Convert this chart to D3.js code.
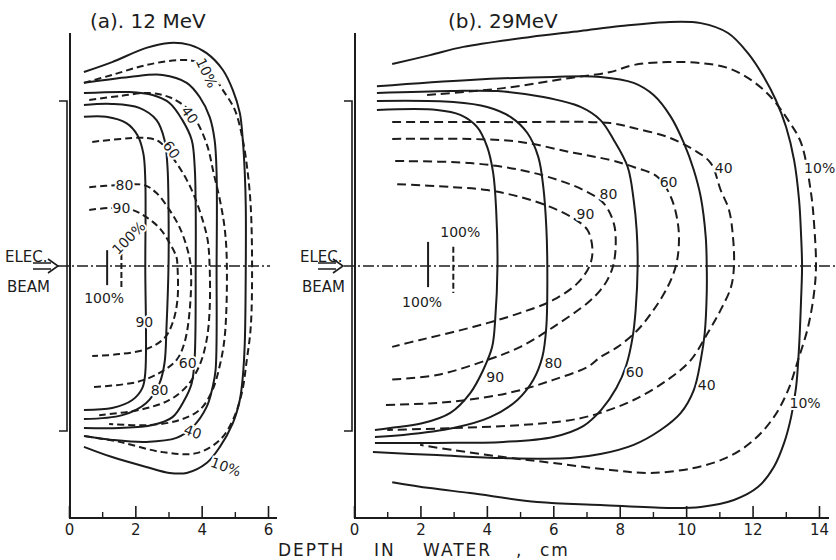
<!DOCTYPE html>
<html>
<head>
<meta charset="utf-8">
<script src="https://cdn.jsdelivr.net/npm/d3@7"></script>
<style>
  body { margin: 0; background: #fff; }
  svg { font-family: "DejaVu Sans", sans-serif; }
</style>
</head>
<body>
<script>
// isodose curves, [depth cm, lateral cm]
// panel (a) 12 MeV
var aSolid10 = [[0.45,5.88],[1.30,6.18],[2.33,6.61],[3.03,6.76],[3.64,6.70],[4.15,6.45],[4.64,5.94],[4.94,5.33],[5.15,4.64],[5.24,3.82],[5.30,2.82],[5.33,1.79],[5.33,0],[5.30,-2.33],[5.24,-3.36],[5.15,-4.06],[4.94,-4.76],[4.55,-5.48],[4.15,-5.97],[3.55,-6.27],[3.03,-6.27],[2.33,-6.09],[1.30,-5.79],[0.45,-5.48]];
var aSolid40 = [[0.45,5.55],[1.82,5.73],[2.82,5.79],[3.55,5.55],[3.94,5.12],[4.24,4.52],[4.39,3.82],[4.45,2.82],[4.45,0],[4.42,-3.15],[4.33,-3.67],[4.15,-4.27],[3.73,-4.88],[3.24,-5.21],[2.33,-5.33],[1.30,-5.27],[0.45,-5.15]];
var aSolid60 = [[0.45,5.24],[1.82,5.27],[2.52,5.18],[3.03,4.94],[3.42,4.42],[3.70,3.82],[3.79,3.00],[3.82,1.79],[3.82,0],[3.79,-2.76],[3.70,-3.55],[3.48,-4.06],[3.12,-4.58],[2.52,-4.82],[1.52,-4.91],[0.45,-4.91]];
var aSolid80 = [[0.45,4.88],[1.30,4.91],[2.12,4.79],[2.64,4.42],[2.88,3.82],[2.97,3.00],[3.00,1.79],[3.00,0],[2.94,-1.85],[2.88,-2.94],[2.73,-3.55],[2.33,-4.15],[1.61,-4.52],[0.45,-4.64]];
var aSolid90 = [[0.45,4.52],[1.12,4.52],[1.73,4.33],[2.06,3.97],[2.24,3.42],[2.30,2.61],[2.30,0],[2.30,-3.24],[2.21,-3.70],[1.91,-4.06],[1.30,-4.30],[0.45,-4.36]];
var aDash10 = [[0.45,5.55],[1.30,5.79],[2.33,6.09],[3.33,6.24],[3.85,6.18],[4.33,5.79],[4.64,5.33],[5.00,4.73],[5.24,3.82],[5.39,2.82],[5.48,1.79],[5.52,0],[5.48,-1.85],[5.36,-2.85],[5.21,-3.85],[4.94,-4.67],[4.55,-5.27],[3.85,-5.67],[2.82,-5.64],[1.52,-5.33],[0.45,-5.15]];
var aDash40 = [[0.61,5.03],[1.52,5.15],[2.42,5.24],[3.09,5.09],[3.64,4.70],[3.94,4.21],[4.18,3.61],[4.36,2.82],[4.55,2.00],[4.70,1.09],[4.76,0],[4.70,-2.09],[4.55,-3.00],[4.30,-3.82],[3.94,-4.36],[3.33,-4.67],[2.42,-4.82],[1.21,-4.79]];
var aDash60 = [[0.70,3.76],[2.33,3.88],[2.73,3.76],[3.24,3.12],[3.55,2.61],[3.79,2.09],[4.03,1.39],[4.18,0.79],[4.24,0],[4.24,-1.33],[4.15,-2.24],[3.94,-3.00],[3.58,-3.61],[3.03,-4.06],[2.12,-4.36],[0.91,-4.52]];
var aDash80 = [[0.61,2.39],[1.45,2.45],[2.27,2.45],[2.64,2.21],[3.03,1.70],[3.33,1.18],[3.55,0.58],[3.67,0],[3.64,-1.33],[3.48,-2.33],[3.24,-2.85],[2.73,-3.24],[2.03,-3.52],[0.70,-3.67]];
var aDash90 = [[0.61,1.70],[1.30,1.76],[1.91,1.70],[2.33,1.48],[2.73,1.15],[3.03,0.70],[3.24,0.27],[3.27,0],[3.27,-1.03],[3.12,-1.73],[2.88,-2.18],[2.33,-2.52],[1.52,-2.67],[0.70,-2.73]];
var aBars = [[1.15,0.48,-0.58,"solid"],[1.58,0.64,-0.64,"dash"]];
var aLabels = [[4.15,5.85,"10%",65],[3.64,4.58,"40",55],[3.09,3.52,"60",55],[1.67,2.45,"80",0],[1.58,1.76,"90",0],[1.80,0.85,"100%",-45],
               [1.06,-0.97,"100%",0],[2.27,-1.70,"90",0],[2.73,-3.76,"80",0],[3.58,-2.94,"60",0],[3.73,-5.03,"40",20],[4.73,-6.09,"10%",20]];

// panel (b) 29 MeV
var bSolid10 = [[1.15,6.12],[2.29,6.39],[3.29,6.64],[5.31,6.94],[6.82,7.12],[8.03,7.27],[9.38,7.39],[10.44,7.36],[11.26,7.06],[11.86,6.45],[12.34,5.73],[12.70,5.03],[13.01,4.21],[13.25,3.21],[13.40,2.00],[13.46,0.94],[13.49,0],[13.46,-1.03],[13.40,-2.45],[13.31,-3.67],[13.16,-4.58],[12.95,-5.36],[12.64,-6.09],[12.16,-6.70],[11.44,-7.09],[10.44,-7.30],[9.44,-7.33],[7.42,-7.24],[5.52,-7.15],[3.50,-6.88],[2.29,-6.73],[1.15,-6.55]];
var bSolid40 = [[0.69,5.45],[3.50,5.64],[6.00,5.73],[7.42,5.73],[8.42,5.55],[9.02,5.18],[9.54,4.52],[9.93,3.73],[10.23,2.91],[10.44,2.09],[10.59,0.88],[10.62,0],[10.62,-0.82],[10.56,-2.03],[10.44,-2.85],[10.23,-3.76],[9.84,-4.45],[9.23,-4.97],[8.42,-5.42],[7.42,-5.70],[6.52,-5.82],[4.50,-5.82],[2.50,-5.73],[0.57,-5.64]];
var bSolid60 = [[0.69,5.24],[2.90,5.30],[4.32,5.30],[5.70,5.12],[6.82,4.82],[7.42,4.42],[7.82,3.82],[8.24,3.00],[8.42,2.00],[8.51,1.09],[8.54,0],[8.48,-1.33],[8.39,-2.15],[8.20,-3.00],[7.90,-3.70],[7.45,-4.35],[6.90,-4.85],[6.00,-5.18],[4.50,-5.33],[2.50,-5.36],[0.63,-5.36]];
var bSolid80 = [[0.69,5.00],[2.99,4.97],[4.01,4.82],[4.71,4.52],[5.22,4.03],[5.55,3.30],[5.70,2.39],[5.79,1.18],[5.82,0],[5.79,-1.85],[5.67,-2.76],[5.40,-3.45],[4.92,-4.06],[4.10,-4.58],[2.99,-4.91],[1.48,-5.12],[0.63,-5.18]];
var bSolid90 = [[0.69,4.73],[2.50,4.73],[3.20,4.58],[3.71,4.21],[4.01,3.61],[4.19,2.82],[4.28,1.70],[4.32,0],[4.25,-1.64],[4.16,-2.45],[3.89,-3.15],[3.50,-3.85],[2.90,-4.45],[2.08,-4.76],[1.09,-4.91],[0.63,-4.97]];
var bDash10 = [[2.20,5.18],[4.50,5.39],[6.52,5.70],[7.72,5.88],[8.42,6.09],[9.44,6.18],[10.44,6.15],[11.26,6.00],[11.95,5.64],[12.55,5.12],[13.07,4.42],[13.46,3.73],[13.76,2.21],[13.85,1.30],[13.91,0],[13.85,-0.82],[13.67,-1.85],[13.37,-2.85],[13.07,-3.76],[12.64,-4.58],[12.04,-5.27],[11.26,-5.79],[10.23,-6.12],[8.93,-6.27],[7.72,-6.18],[6.00,-5.97],[4.50,-5.79],[2.99,-5.58],[1.99,-5.42]];
var bDash40 = [[1.15,4.36],[4.50,4.36],[7.72,4.33],[8.42,4.18],[9.44,3.91],[10.23,3.52],[10.74,3.12],[11.04,2.30],[11.29,1.70],[11.41,0.88],[11.44,0],[11.35,-0.64],[11.04,-1.33],[10.65,-2.03],[10.14,-2.85],[9.44,-3.45],[8.42,-4.06],[7.42,-4.45],[6.52,-4.67],[5.01,-4.82],[2.99,-4.91],[1.00,-4.97]];
var bDash60 = [[1.15,3.85],[3.50,3.85],[5.01,3.76],[6.52,3.45],[7.72,3.21],[8.42,3.00],[9.14,2.70],[9.54,2.09],[9.75,1.30],[9.78,0.64],[9.69,0],[9.44,-0.64],[9.02,-1.33],[8.54,-1.94],[7.94,-2.45],[7.42,-2.76],[7.03,-3.06],[6.00,-3.45],[5.01,-3.76],[4.01,-3.97],[2.50,-4.15],[0.88,-4.21]];
var bDash80 = [[1.24,3.18],[3.50,3.12],[5.01,2.91],[6.13,2.61],[6.91,2.30],[7.51,1.91],[7.82,1.30],[7.88,0.64],[7.80,0],[7.63,-0.42],[7.42,-0.73],[7.03,-1.12],[6.00,-1.85],[5.01,-2.45],[4.01,-2.85],[2.50,-3.30],[1.00,-3.45]];
var bDash90 = [[1.30,2.48],[2.99,2.39],[4.01,2.30],[5.01,2.09],[5.91,1.79],[6.60,1.45],[7.03,1.09],[7.18,0.48],[7.09,0],[6.73,-0.52],[6.00,-1.03],[5.01,-1.42],[4.01,-1.73],[2.99,-2.00],[1.99,-2.24],[1.15,-2.45]];
var bBars = [[2.23,0.73,-0.64,"solid"],[2.99,0.58,-0.82,"dash"]];
var bLabels = [[3.20,1.03,"100%",0],[6.97,1.58,"90",0],[7.66,2.18,"80",0],[9.47,2.55,"60",0],[11.13,2.97,"40",0],[14.02,2.97,"10%",0],
               [2.05,-1.09,"100%",0],[4.25,-3.36,"90",0],[6.00,-2.94,"80",0],[8.45,-3.21,"60",0],[10.62,-3.61,"40",0],[13.58,-4.15,"10%",0]];

var aMajor = [0, 2, 4, 6], aMinor = [1, 3, 5];
var bMajor = [0, 2, 4, 6, 8, 10, 12, 14], bMinor = [1, 3, 5, 7, 9, 11, 13];

var ink = "#1c1c1c";

var svg = d3.select("body").append("svg")
    .attr("width", 836)
    .attr("height", 560);

// lateral scale, shared
var y = d3.scaleLinear().domain([-5, 5]).range([431, 101]);

function drawPanel(opt) {
    var x = opt.x;
    var g = svg.append("g");
    var line = d3.line()
        .curve(d3.curveCatmullRom.alpha(0.5))
        .x(function (d) { return x(d[0]); })
        .y(function (d) { return y(d[1]); });

    // frame: depth axis and entrance surface
    var x0 = x(0);
    g.append("line").attr("x1", x0 + 1).attr("x2", x0 + 1).attr("y1", 33).attr("y2", 519)
        .attr("stroke", ink).attr("stroke-width", 2);
    g.append("line").attr("x1", x0).attr("x2", opt.axisEnd).attr("y1", 518).attr("y2", 518)
        .attr("stroke", ink).attr("stroke-width", 2);

    var ax = g.append("g").attr("transform", "translate(0,518)")
        .call(d3.axisBottom(x).tickValues(opt.major).tickFormat(d3.format("d")).tickSize(-12).tickPadding(6));
    ax.select(".domain").remove();
    ax.selectAll("line").attr("stroke", ink).attr("stroke-width", 1.6);
    ax.selectAll("text").attr("font-size", 15).attr("fill", ink).attr("font-family", "DejaVu Sans");
    var mn = g.append("g").attr("transform", "translate(0,518)")
        .call(d3.axisBottom(x).tickValues(opt.minor).tickSize(-6).tickFormat(""));
    mn.select(".domain").remove();
    mn.selectAll("line").attr("stroke", ink).attr("stroke-width", 1.4);

    // field edge bracket
    g.append("path")
        .attr("d", "M" + (x0 - 10) + "," + y(5) + "H" + (x0 - 2) + "V" + y(-5) + "H" + (x0 - 10))
        .attr("fill", "none").attr("stroke", ink).attr("stroke-width", 1.6);

    // central axis
    g.append("line").attr("x1", opt.cStart).attr("x2", opt.cEnd).attr("y1", y(0)).attr("y2", y(0))
        .attr("stroke", ink).attr("stroke-width", 1.3).attr("stroke-dasharray", "11,3,2,3");

    // beam arrow
    var ar = opt.arrow;
    g.append("path")
        .attr("d", "M" + ar + "," + (y(0) - 3) + "H" + (ar + 18) + "M" + ar + "," + (y(0) + 3) + "H" + (ar + 18) +
            "M" + (ar + 15) + "," + (y(0) - 7) + "L" + (ar + 25) + "," + y(0) + "L" + (ar + 15) + "," + (y(0) + 7))
        .attr("fill", "none").attr("stroke", ink).attr("stroke-width", 1.6);
    g.append("text").attr("x", opt.textX).attr("y", 262).attr("font-size", 15).attr("fill", ink).text("ELEC.");
    g.append("text").attr("x", opt.textX + 2).attr("y", 292).attr("font-size", 15).attr("fill", ink).text("BEAM");

    // isodose curves
    opt.solid.forEach(function (c) {
        g.append("path").attr("d", line(c))
            .attr("fill", "none").attr("stroke", ink).attr("stroke-width", 2);
    });
    opt.dashed.forEach(function (c) {
        g.append("path").attr("d", line(c))
            .attr("fill", "none").attr("stroke", ink).attr("stroke-width", 2)
            .attr("stroke-dasharray", opt.dash);
    });

    // 100% markers
    opt.bars.forEach(function (b) {
        g.append("line").attr("x1", x(b[0])).attr("x2", x(b[0]))
            .attr("y1", y(b[1])).attr("y2", y(b[2]))
            .attr("stroke", ink).attr("stroke-width", 2)
            .attr("stroke-dasharray", b[3] == "dash" ? "6,3" : null);
    });

    // labels with a white halo so the curve is broken under them
    g.selectAll(".lab").data(opt.labels).enter().append("text")
        .attr("class", "lab")
        .attr("transform", function (d) { return "translate(" + x(d[0]) + "," + y(d[1]) + ") rotate(" + d[3] + ")"; })
        .attr("text-anchor", "middle")
        .attr("dy", "0.35em")
        .attr("font-size", 14)
        .attr("fill", ink)
        .attr("stroke", "#fff").attr("stroke-width", 4).attr("paint-order", "stroke")
        .text(function (d) { return d[2]; });

    g.append("text").attr("x", opt.titleX).attr("y", 28).attr("font-size", 20).attr("fill", ink)
        .text(opt.title);
}

drawPanel({
    x: d3.scaleLinear().domain([0, 6]).range([69, 268]),
    major: aMajor, minor: aMinor, axisEnd: 277,
    cStart: 58, cEnd: 270, arrow: 33, textX: 5,
    solid: [aSolid10, aSolid40, aSolid60, aSolid80, aSolid90],
    dashed: [aDash10, aDash40, aDash60, aDash80, aDash90],
    dash: "7,4", bars: aBars, labels: aLabels,
    title: "(a). 12 MeV", titleX: 90
});

drawPanel({
    x: d3.scaleLinear().domain([0, 14]).range([354, 819]),
    major: bMajor, minor: bMinor, axisEnd: 829,
    cStart: 344, cEnd: 836, arrow: 318, textX: 300,
    solid: [bSolid10, bSolid40, bSolid60, bSolid80, bSolid90],
    dashed: [bDash10, bDash40, bDash60, bDash80, bDash90],
    dash: "9,5", bars: bBars, labels: bLabels,
    title: "(b). 29MeV", titleX: 448
});

// common depth title
var xt = svg.append("text").attr("y", 556).attr("font-size", 17).attr("fill", ink).attr("letter-spacing", 2);
xt.append("tspan").attr("x", 278).text("DEPTH");
xt.append("tspan").attr("x", 374).text("IN");
xt.append("tspan").attr("x", 423).text("WATER");
xt.append("tspan").attr("x", 516).text(",");
xt.append("tspan").attr("x", 540).text("cm");
</script>
</body>
</html>
